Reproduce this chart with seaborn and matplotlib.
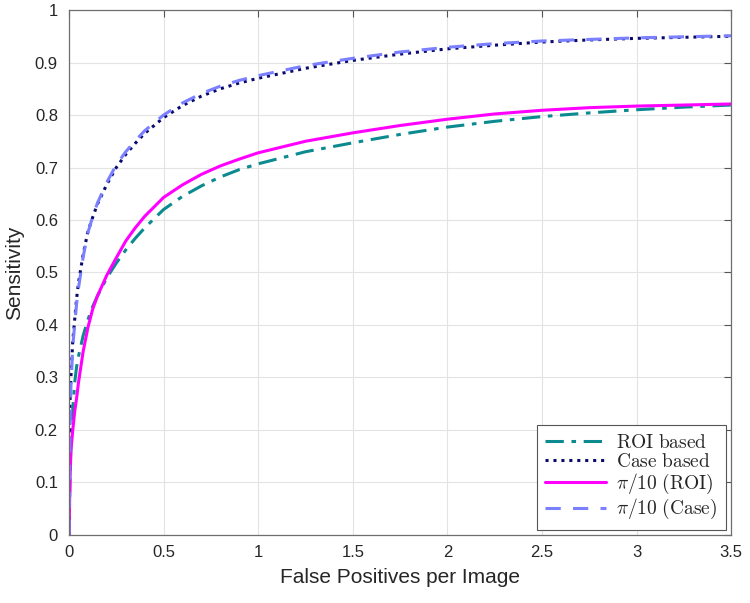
import matplotlib
matplotlib.use('Agg')
import matplotlib.pyplot as plt
import numpy as np
import seaborn as sns

# False positives per image (shared x for all curves)
fppi = [0, 0.005, 0.01, 0.02, 0.03, 0.04, 0.05, 0.075, 0.1, 0.125, 0.15, 0.2, 0.25,
        0.3, 0.35, 0.4, 0.5, 0.6, 0.7, 0.8, 0.9, 1.0, 1.25, 1.5, 1.75, 2.0, 2.25,
        2.5, 2.75, 3.0, 3.25, 3.5]

roi_based = [0, 0.10, 0.17, 0.24, 0.29, 0.32, 0.34, 0.38, 0.41, 0.435, 0.455, 0.49, 0.518,
             0.543, 0.565, 0.585, 0.62, 0.645, 0.665, 0.682, 0.696, 0.707, 0.73, 0.747,
             0.763, 0.777, 0.788, 0.797, 0.804, 0.810, 0.815, 0.819]
case_based = [0, 0.25, 0.30, 0.37, 0.41, 0.45, 0.48, 0.535, 0.578, 0.605, 0.63, 0.668, 0.70,
              0.725, 0.746, 0.765, 0.795, 0.818, 0.836, 0.850, 0.861, 0.870, 0.889, 0.904,
              0.916, 0.926, 0.933, 0.939, 0.943, 0.946, 0.948, 0.950]
pi10_roi = [0, 0.10, 0.16, 0.20, 0.235, 0.26, 0.29, 0.35, 0.395, 0.43, 0.455, 0.495, 0.528,
            0.56, 0.585, 0.607, 0.643, 0.667, 0.687, 0.703, 0.716, 0.728, 0.75, 0.766,
            0.780, 0.792, 0.802, 0.809, 0.814, 0.817, 0.819, 0.821]
pi10_case = [0, 0.20, 0.28, 0.36, 0.40, 0.44, 0.47, 0.53, 0.576, 0.606, 0.632, 0.672, 0.705,
             0.73, 0.751, 0.77, 0.80, 0.823, 0.841, 0.855, 0.866, 0.875, 0.894, 0.908,
             0.920, 0.929, 0.936, 0.941, 0.944, 0.947, 0.949, 0.951]

labels = [r'$\mathrm{ROI\ based}$', r'$\mathrm{Case\ based}$',
          r'$\pi/10\ \mathrm{(ROI)}$', r'$\pi/10\ \mathrm{(Case)}$']
series = [roi_based, case_based, pi10_roi, pi10_case]
colors = ['#0b8a8f', '#0a0a6e', '#ff00ff', '#7a80ff']
styles = [(0, (6, 2.5, 1.5, 2.5)), (0, (1, 1.6)), '-', (0, (5, 4))]

sns.set_theme(style='whitegrid')
plt.rcParams['font.family'] = ['Liberation Sans', 'DejaVu Sans']
plt.rcParams['mathtext.fontset'] = 'cm'

fig = plt.figure(figsize=(7.5, 6.03), dpi=100)
ax = fig.add_axes([0.092, 0.1128, 0.883, 0.8706])

for y, lab, c, ls in zip(series, labels, colors, styles):
    sns.lineplot(x=fppi, y=y, color=c, linestyle=ls, linewidth=2.2, label=lab,
                 estimator=None, sort=False, ax=ax)

ax.set_xlim(0, 3.5)
ax.set_ylim(0, 1)
ax.set_xticks(np.arange(0, 3.51, 0.5))
ax.set_yticks(np.arange(0, 1.01, 0.1))
ax.xaxis.set_major_formatter(matplotlib.ticker.FormatStrFormatter('%g'))
ax.yaxis.set_major_formatter(matplotlib.ticker.FormatStrFormatter('%g'))
ax.grid(True, color='#e3e3e3', linewidth=0.8)
for s in ax.spines.values():
    s.set_color('#6e6e6e')
    s.set_linewidth(0.9)
ax.tick_params(direction='in', length=5, width=0.8, color='#555555',
               top=True, right=True, labelsize=12, labelcolor='#262626')
ax.tick_params(axis='y', pad=8)
ax.tick_params(axis='x', pad=7)
ax.set_xlabel('False Positives per Image', fontsize=15, color='#262626', labelpad=6)
ax.set_ylabel('Sensitivity', fontsize=15, color='#262626', labelpad=8)

leg = ax.legend(loc='lower right', fontsize=14, frameon=True, fancybox=False,
                edgecolor='#555555', framealpha=1, borderaxespad=0.25,
                handlelength=3.1, handletextpad=0.55, labelspacing=0.06, borderpad=0.45)
leg.get_frame().set_linewidth(0.8)

fig.savefig('out.png', dpi=100)
